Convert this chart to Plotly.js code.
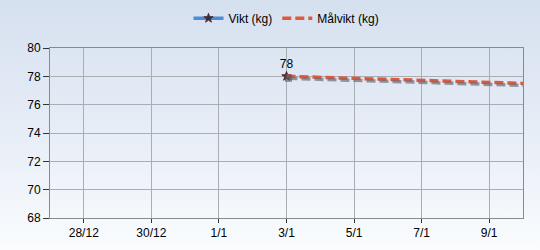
<!DOCTYPE html>
<html><head><meta charset="utf-8">
<script src="https://cdn.plot.ly/plotly-3.0.1.min.js"></script>
<style>
html,body{margin:0;padding:0;}
body{width:540px;height:250px;background:linear-gradient(to bottom,#d5e0ef 0%,#e8eef7 55%,#fafcfe 100%);}
#c{width:540px;height:250px;}
</style></head><body><div id="c"></div>
<script>
const viktDates = ['2014-01-03'];
const viktValues = [78];
const malDates = ['2014-01-03', '2014-01-10'];
const malValues = [78, 77.5];
const tickDates = ['2013-12-28','2013-12-30','2014-01-01','2014-01-03','2014-01-05','2014-01-07','2014-01-09'];
const tickLabels = ['28/12','30/12','1/1','3/1','5/1','7/1','9/1'];
const xRange = ['2013-12-27','2014-01-10'];
const yRange = [68, 80];

// shadow offset axes (pixel shift of ~2px)
const plotW = 473, plotH = 170;
const t0 = new Date(xRange[0]+'T00:00:00Z').getTime(), t1 = new Date(xRange[1]+'T00:00:00Z').getTime();
const dxMs = (t1 - t0) / plotW * 2;
const dy = (yRange[1] - yRange[0]) / plotH * 2;
const iso = t => new Date(t).toISOString().replace('T',' ').replace('Z','');

const font = {family:'Liberation Sans, Arial, sans-serif', size:12, color:'#000'};

const traces = [
  {x: malDates, y: malValues, xaxis:'x2', yaxis:'y2', mode:'lines', showlegend:false, hoverinfo:'skip',
   line:{color:'rgba(110,110,120,0.7)', width:3.5, dash:'9px,4px'}},
  {x: viktDates, y: viktValues, xaxis:'x2', yaxis:'y2', mode:'markers', showlegend:false, hoverinfo:'skip',
   marker:{color:'rgba(80,80,90,0.6)', size:7, symbol:'square'}},
  {x: viktDates, y: viktValues, name:'Vikt (kg)', mode:'lines+markers+text', text: viktValues.map(String),
   textposition:'top center', textfont:{family:font.family, size:12, color:'#000'},
   line:{color:'#4f8ad6', width:3.5}, marker:{color:'#2a2f48', size:7, symbol:'star', line:{color:'#5a2a2a', width:1}}},
  {x: malDates, y: malValues, name:'Målvikt (kg)', mode:'lines',
   line:{color:'#e1583d', width:3.5, dash:'9px,4px'}}
];

const layout = {
  width:540, height:250,
  margin:{l:50, r:17, t:48, b:32},
  paper_bgcolor:'rgba(0,0,0,0)', plot_bgcolor:'rgba(0,0,0,0)',
  font: font,
  showlegend:true,
  legend:{orientation:'h', x:0.5, xanchor:'center', y:0.985, yref:'container', yanchor:'top',
          font:{family:font.family, size:12, color:'#000'}, bgcolor:'rgba(0,0,0,0)', itemwidth:30, tracegroupgap:0},
  xaxis:{type:'date', range:xRange, tickvals:tickDates, ticktext:tickLabels, showgrid:true,
         gridcolor:'#a9adb6', gridwidth:1, showline:true, linecolor:'#8a8a8a', linewidth:1, mirror:true,
         ticks:'outside', ticklen:4, tickcolor:'#333', zeroline:false, fixedrange:true},
  yaxis:{range:yRange, dtick:2, tick0:68, showgrid:true, gridcolor:'#a9adb6', gridwidth:1,
         showline:true, linecolor:'#8a8a8a', linewidth:1, mirror:true, ticks:'outside', ticklen:6,
         tickcolor:'#333', zeroline:false, fixedrange:true},
  xaxis2:{type:'date', overlaying:'x', range:[iso(t0 - dxMs), iso(t1 - dxMs)], visible:false, fixedrange:true},
  yaxis2:{overlaying:'y', range:[yRange[0] + dy, yRange[1] + dy], visible:false, fixedrange:true}
};

Plotly.newPlot('c', traces, layout, {displayModeBar:false, staticPlot:true});
</script></body></html>
